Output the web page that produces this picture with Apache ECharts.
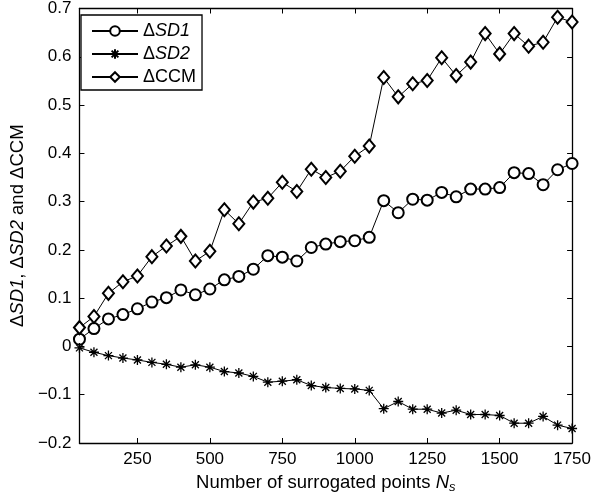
<!DOCTYPE html>
<html>
<head>
<meta charset="utf-8">
<script src="https://cdn.jsdelivr.net/npm/echarts@6/dist/echarts.min.js"></script>
<style>html,body{margin:0;padding:0;background:#fff;}#c{width:594px;height:500px;}</style>
</head>
<body>
<div id="c"></div>
<script>
var xs = [50,100,150,200,250,300,350,400,450,500,550,600,650,700,750,800,850,900,950,1000,1050,1100,1150,1200,1250,1300,1350,1400,1450,1500,1550,1600,1650,1700,1750];
var sd1 = [0.015,0.037,0.057,0.066,0.078,0.092,0.101,0.117,0.107,0.119,0.138,0.145,0.160,0.188,0.185,0.177,0.205,0.212,0.217,0.219,0.226,0.302,0.277,0.305,0.303,0.319,0.310,0.326,0.326,0.329,0.360,0.358,0.335,0.366,0.379];
var sd2 = [-0.003,-0.012,-0.019,-0.024,-0.028,-0.033,-0.037,-0.043,-0.038,-0.043,-0.052,-0.055,-0.062,-0.074,-0.072,-0.069,-0.081,-0.085,-0.087,-0.088,-0.091,-0.129,-0.114,-0.130,-0.130,-0.138,-0.132,-0.141,-0.141,-0.143,-0.159,-0.159,-0.145,-0.163,-0.170];
var ccm = [0.039,0.062,0.110,0.134,0.146,0.186,0.208,0.228,0.177,0.197,0.283,0.254,0.299,0.307,0.340,0.321,0.367,0.350,0.363,0.394,0.415,0.557,0.517,0.544,0.551,0.598,0.561,0.589,0.648,0.606,0.648,0.622,0.630,0.682,0.672];
var xTicks = [250,500,750,1000,1250,1500,1750];
var seriesNames = ['ΔSD1','ΔSD2','ΔCCM'];

var FONT = "'Liberation Sans', Arial, Helvetica, sans-serif";
var FS = 17;
var NFS = 18.5;
var LFS = 18;
function pairs(ys){ return xs.map(function(x,i){ return [x, ys[i]]; }); }
var star = 'path://M5,0L5,10M0,5L10,5M1.5,1.5L8.5,8.5M1.5,8.5L8.5,1.5';
var chart = echarts.init(document.getElementById('c'), null, {renderer:'canvas'});
var axisLine = {show:true, onZero:false, lineStyle:{color:'#000', width:1.3}};
var tick = {show:true, inside:true, length:5, lineStyle:{color:'#000', width:1}};
chart.setOption({
  animation:false,
  backgroundColor:'#fff',
  textStyle:{fontFamily:FONT, color:'#000'},
  grid:{left:72, right:20, top:8, bottom:57, containLabel:false},
  legend:{
    orient:'vertical', left:81, top:15,
    padding:[7,6,4,10], itemGap:5, itemWidth:46, itemHeight:12,
    borderColor:'#000', borderWidth:1.3, backgroundColor:'#fff',
    data:seriesNames,
    formatter:function(n){ var t = n.replace('Δ',''); return t==='CCM' ? '{d|Δ}{n|CCM}' : '{d|Δ}{i|'+t+'}'; },
    textStyle:{fontFamily:FONT, fontSize:LFS, color:'#000', lineHeight:18,
      rich:{d:{fontFamily:FONT,fontSize:LFS,color:'#000',lineHeight:18}, n:{fontFamily:FONT,fontSize:LFS,color:'#000',lineHeight:18}, i:{fontFamily:FONT,fontSize:LFS,fontStyle:'italic',color:'#000',lineHeight:18}}}
  },
  xAxis:[{
    type:'value', min:50, max:1750, position:'bottom',
    axisLine:axisLine,
    axisTick:Object.assign({customValues:xTicks}, tick),
    axisLabel:{customValues:xTicks, fontFamily:FONT, fontSize:FS, color:'#000', margin:8,
      formatter:function(v){ return String(Math.round(v)); }},
    splitLine:{show:false},
    name:'{n|Number of surrogated points }{i|N}{s|s}',
    nameLocation:'middle', nameGap:30,
    nameTextStyle:{fontFamily:FONT, fontSize:NFS, color:'#000',
      rich:{n:{fontFamily:FONT,fontSize:NFS,color:'#000',verticalAlign:'top',lineHeight:21},
            i:{fontFamily:FONT,fontSize:NFS,fontStyle:'italic',color:'#000',verticalAlign:'top',lineHeight:21},
            s:{fontFamily:FONT,fontSize:13,fontStyle:'italic',color:'#000',verticalAlign:'top',lineHeight:21,padding:[8,0,0,0]}}}
  },{
    type:'value', min:50, max:1750, position:'top',
    axisLine:axisLine,
    axisTick:Object.assign({customValues:xTicks}, tick),
    axisLabel:{show:false}, splitLine:{show:false}
  }],
  yAxis:[{
    type:'value', min:-0.2, max:0.7, interval:0.1, position:'left',
    axisLine:axisLine, axisTick:tick,
    axisLabel:{fontFamily:FONT, fontSize:FS, color:'#000', margin:8,
      formatter:function(v){ if(Math.abs(v)<1e-9) return '0'; return (v<0?'\u2212':'') + Math.abs(v).toFixed(1); }},
    splitLine:{show:false},
    name:'{d|Δ}{i|SD1}{n|, Δ}{i|SD2}{n| and ΔCCM}',
    nameLocation:'middle', nameGap:46, nameRotate:90,
    nameTextStyle:{fontFamily:FONT, fontSize:NFS, color:'#000',
      rich:{d:{fontFamily:FONT,fontSize:NFS,color:'#000'}, n:{fontFamily:FONT,fontSize:NFS,color:'#000'}, i:{fontFamily:FONT,fontSize:NFS,fontStyle:'italic',color:'#000'}}}
  },{
    type:'value', min:-0.2, max:0.7, interval:0.1, position:'right',
    axisLine:axisLine, axisTick:tick, axisLabel:{show:false}, splitLine:{show:false}
  }],
  series:[
    {name:seriesNames[0], type:'line', data:pairs(sd1), symbol:'emptyCircle', symbolSize:11,
     lineStyle:{color:'#000', width:1}, itemStyle:{color:'#000', borderColor:'#000', borderWidth:1}},
    {name:seriesNames[1], type:'line', data:pairs(sd2), symbol:star, symbolSize:10,
     lineStyle:{color:'#000', width:1}, itemStyle:{color:'#000', borderColor:'#000', borderWidth:1.3}},
    {name:seriesNames[2], type:'line', data:pairs(ccm), symbol:'emptyDiamond', symbolSize:[11,13],
     lineStyle:{color:'#000', width:1}, itemStyle:{color:'#000', borderColor:'#000', borderWidth:1}}
  ]
});
</script>
</body>
</html>
